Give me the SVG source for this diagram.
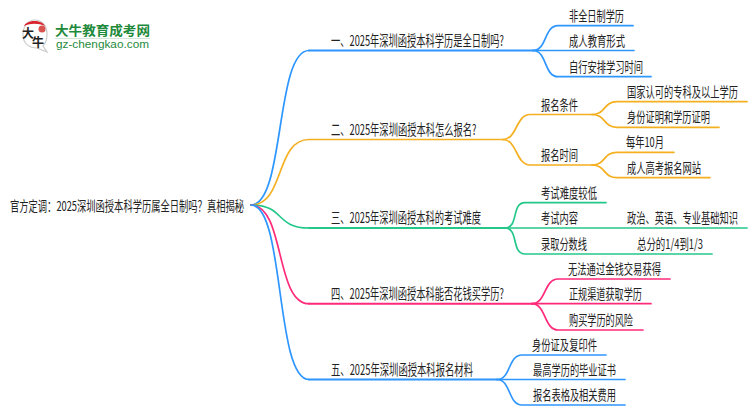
<svg xmlns="http://www.w3.org/2000/svg" width="750" height="410" viewBox="0 0 750 410">
<style>
text{font-family:"Noto Sans CJK SC","Liberation Sans",sans-serif;font-size:13.5px;fill:#222;}
.m{font-size:14.5px}
.c{fill:none;stroke-width:1.7;stroke-linecap:round;}
.t{stroke-width:2.1}
.b{stroke:#2e96ff}.o{stroke:#f5b021}.g{stroke:#24c78a}.p{stroke:#ff2a7a}
.lg{fill:#1f8a3c;font-weight:700;font-size:13px}
.lu{fill:#1f8a3c;font-family:"Liberation Sans",sans-serif;font-size:11px}
</style>
<rect width="750" height="410" fill="#fff"/>
<g id="logo">
<path d="M35 20C27 20 23 27 23 35C23 44 30 48 37 48L47 52L43 46C46 43 47 39 47 34C47 26 42 20 35 20Z" fill="#fff" stroke="#ccc" stroke-width="1.2"/>
<path d="M24 26C27 20 41 19 45 26C38 23 31 23 24 26Z" fill="#d9232e"/>
<circle cx="42" cy="29" r="3.5" fill="#d9534f"/>
<text x="22" y="38" style="font-size:12px;font-weight:700;fill:#222">大</text>
<text x="32" y="47" style="font-size:12px;font-weight:700;fill:#222">牛</text>
<text class="lg" x="55" y="35" textLength="95" lengthAdjust="spacingAndGlyphs">大牛教育成考网</text>
<line x1="55" y1="38.5" x2="150" y2="38.5" stroke="#d5e5da" stroke-width="1"/>
<text class="lu" x="56" y="48" textLength="93" lengthAdjust="spacingAndGlyphs">gz-chengkao.com</text>
</g>
<g id="connectors">
<path class="c b" d="M251 205C285 205 275 50.5 309 50.5"/><path class="c t b" d="M309 50.5H533"/>
<path class="c o" d="M251 205C285 205 275 139.5 309 139.5H503"/>
<path class="c g" d="M251 205C285 205 275 228 309 228"/><path class="c t g" d="M309 228H505"/>
<path class="c p" d="M251 205C285 205 275 303.7 309 303.7"/><path class="c t p" d="M309 303.7H532"/>
<path class="c b" d="M251 205C285 205 275 379.5 309 379.5"/><path class="c t b" d="M309 379.5H497"/>
<path class="c b" d="M533 50.5C547 50.5 544 25.7 558 25.7H633"/>
<path class="c b" d="M533 50.5H634"/>
<path class="c b" d="M533 50.5C547 50.5 544 76.7 558 76.7H651"/>
<path class="c o" d="M503 139.5C517 139.5 516 114.5 530 114.5H592"/>
<path class="c o" d="M503 139.5C517 139.5 516 165 530 165H592"/>
<path class="c o" d="M592 114.5C606 114.5 603 101.7 617 101.7H747"/>
<path class="c o" d="M592 114.5C606 114.5 603 127.3 617 127.3H719"/>
<path class="c o" d="M592 165C606 165 603 152.3 617 152.3H674"/>
<path class="c o" d="M592 165C606 165 603 177.7 617 177.7H710"/>
<path class="c g" d="M505 228C519 228 511 202.7 525 202.7H606"/>
<path class="c g" d="M505 228H747"/>
<path class="c g" d="M505 228C519 228 511 254 525 254H712"/>
<path class="c p" d="M532 303.7C546 303.7 544 279 558 279H670"/>
<path class="c p" d="M532 303.7H651"/>
<path class="c p" d="M532 303.7C546 303.7 544 330 558 330H643"/>
<path class="c b" d="M497 379.5C511 379.5 508 355 522 355H606"/>
<path class="c b" d="M497 379.5H625"/>
<path class="c b" d="M497 379.5C511 379.5 508 405 522 405H625"/>
</g>
<g id="root"><text x="10" y="210.5" textLength="234" lengthAdjust="spacingAndGlyphs">官方定调：2025深圳函授本科学历属全日制吗？真相揭秘</text></g>
<g id="n1"><text class="m" transform="translate(331 46) scale(.638 1)">一、2025年深圳函授本科学历是全日制吗?</text></g>
<g id="n1-1"><text x="569" y="20.5" textLength="55" lengthAdjust="spacingAndGlyphs">非全日制学历</text></g>
<g id="n1-2"><text x="569" y="45.5" textLength="56" lengthAdjust="spacingAndGlyphs">成人教育形式</text></g>
<g id="n1-3"><text x="569" y="71.5" textLength="74" lengthAdjust="spacingAndGlyphs">自行安排学习时间</text></g>
<g id="n2"><text class="m" transform="translate(331 135) scale(.64 1)">二、2025年深圳函授本科怎么报名?</text></g>
<g id="n2-1"><text x="541" y="109.5" textLength="37" lengthAdjust="spacingAndGlyphs">报名条件</text></g>
<g id="n2-1-1"><text transform="translate(627 96.5) scale(.685 1)">国家认可的专科及以上学历</text></g>
<g id="n2-1-2"><text x="627" y="122" textLength="83" lengthAdjust="spacingAndGlyphs">身份证明和学历证明</text></g>
<g id="n2-2"><text x="541" y="160" textLength="37" lengthAdjust="spacingAndGlyphs">报名时间</text></g>
<g id="n2-2-1"><text x="626" y="147" textLength="38" lengthAdjust="spacingAndGlyphs">每年10月</text></g>
<g id="n2-2-2"><text x="627" y="172.5" textLength="74" lengthAdjust="spacingAndGlyphs">成人高考报名网站</text></g>
<g id="n3"><text class="m" transform="translate(331 223) scale(.638 1)">三、2025年深圳函授本科的考试难度</text></g>
<g id="n3-1"><text x="541" y="197.5" textLength="56" lengthAdjust="spacingAndGlyphs">考试难度较低</text></g>
<g id="n3-2"><text x="541" y="223" textLength="37" lengthAdjust="spacingAndGlyphs">考试内容</text></g>
<g id="n3-2-1"><text transform="translate(627 223) scale(.685 1)">政治、英语、专业基础知识</text></g>
<g id="n3-3"><text x="541" y="249" textLength="46" lengthAdjust="spacingAndGlyphs">录取分数线</text></g>
<g id="n3-3-1"><text x="637" y="249" textLength="66" lengthAdjust="spacingAndGlyphs">总分的1/4到1/3</text></g>
<g id="n4"><text class="m" transform="translate(331 299) scale(.638 1)">四、2025年深圳函授本科能否花钱买学历?</text></g>
<g id="n4-1"><text x="568" y="274" textLength="93" lengthAdjust="spacingAndGlyphs">无法通过金钱交易获得</text></g>
<g id="n4-2"><text x="569" y="299" textLength="73" lengthAdjust="spacingAndGlyphs">正规渠道获取学历</text></g>
<g id="n4-3"><text x="569" y="325" textLength="64" lengthAdjust="spacingAndGlyphs">购买学历的风险</text></g>
<g id="n5"><text class="m" transform="translate(331 374.5) scale(.644 1)">五、2025年深圳函授本科报名材料</text></g>
<g id="n5-1"><text x="532" y="350" textLength="65" lengthAdjust="spacingAndGlyphs">身份证及复印件</text></g>
<g id="n5-2"><text x="533" y="375" textLength="83" lengthAdjust="spacingAndGlyphs">最高学历的毕业证书</text></g>
<g id="n5-3"><text x="533" y="400" textLength="83" lengthAdjust="spacingAndGlyphs">报名表格及相关费用</text></g>
</svg>
